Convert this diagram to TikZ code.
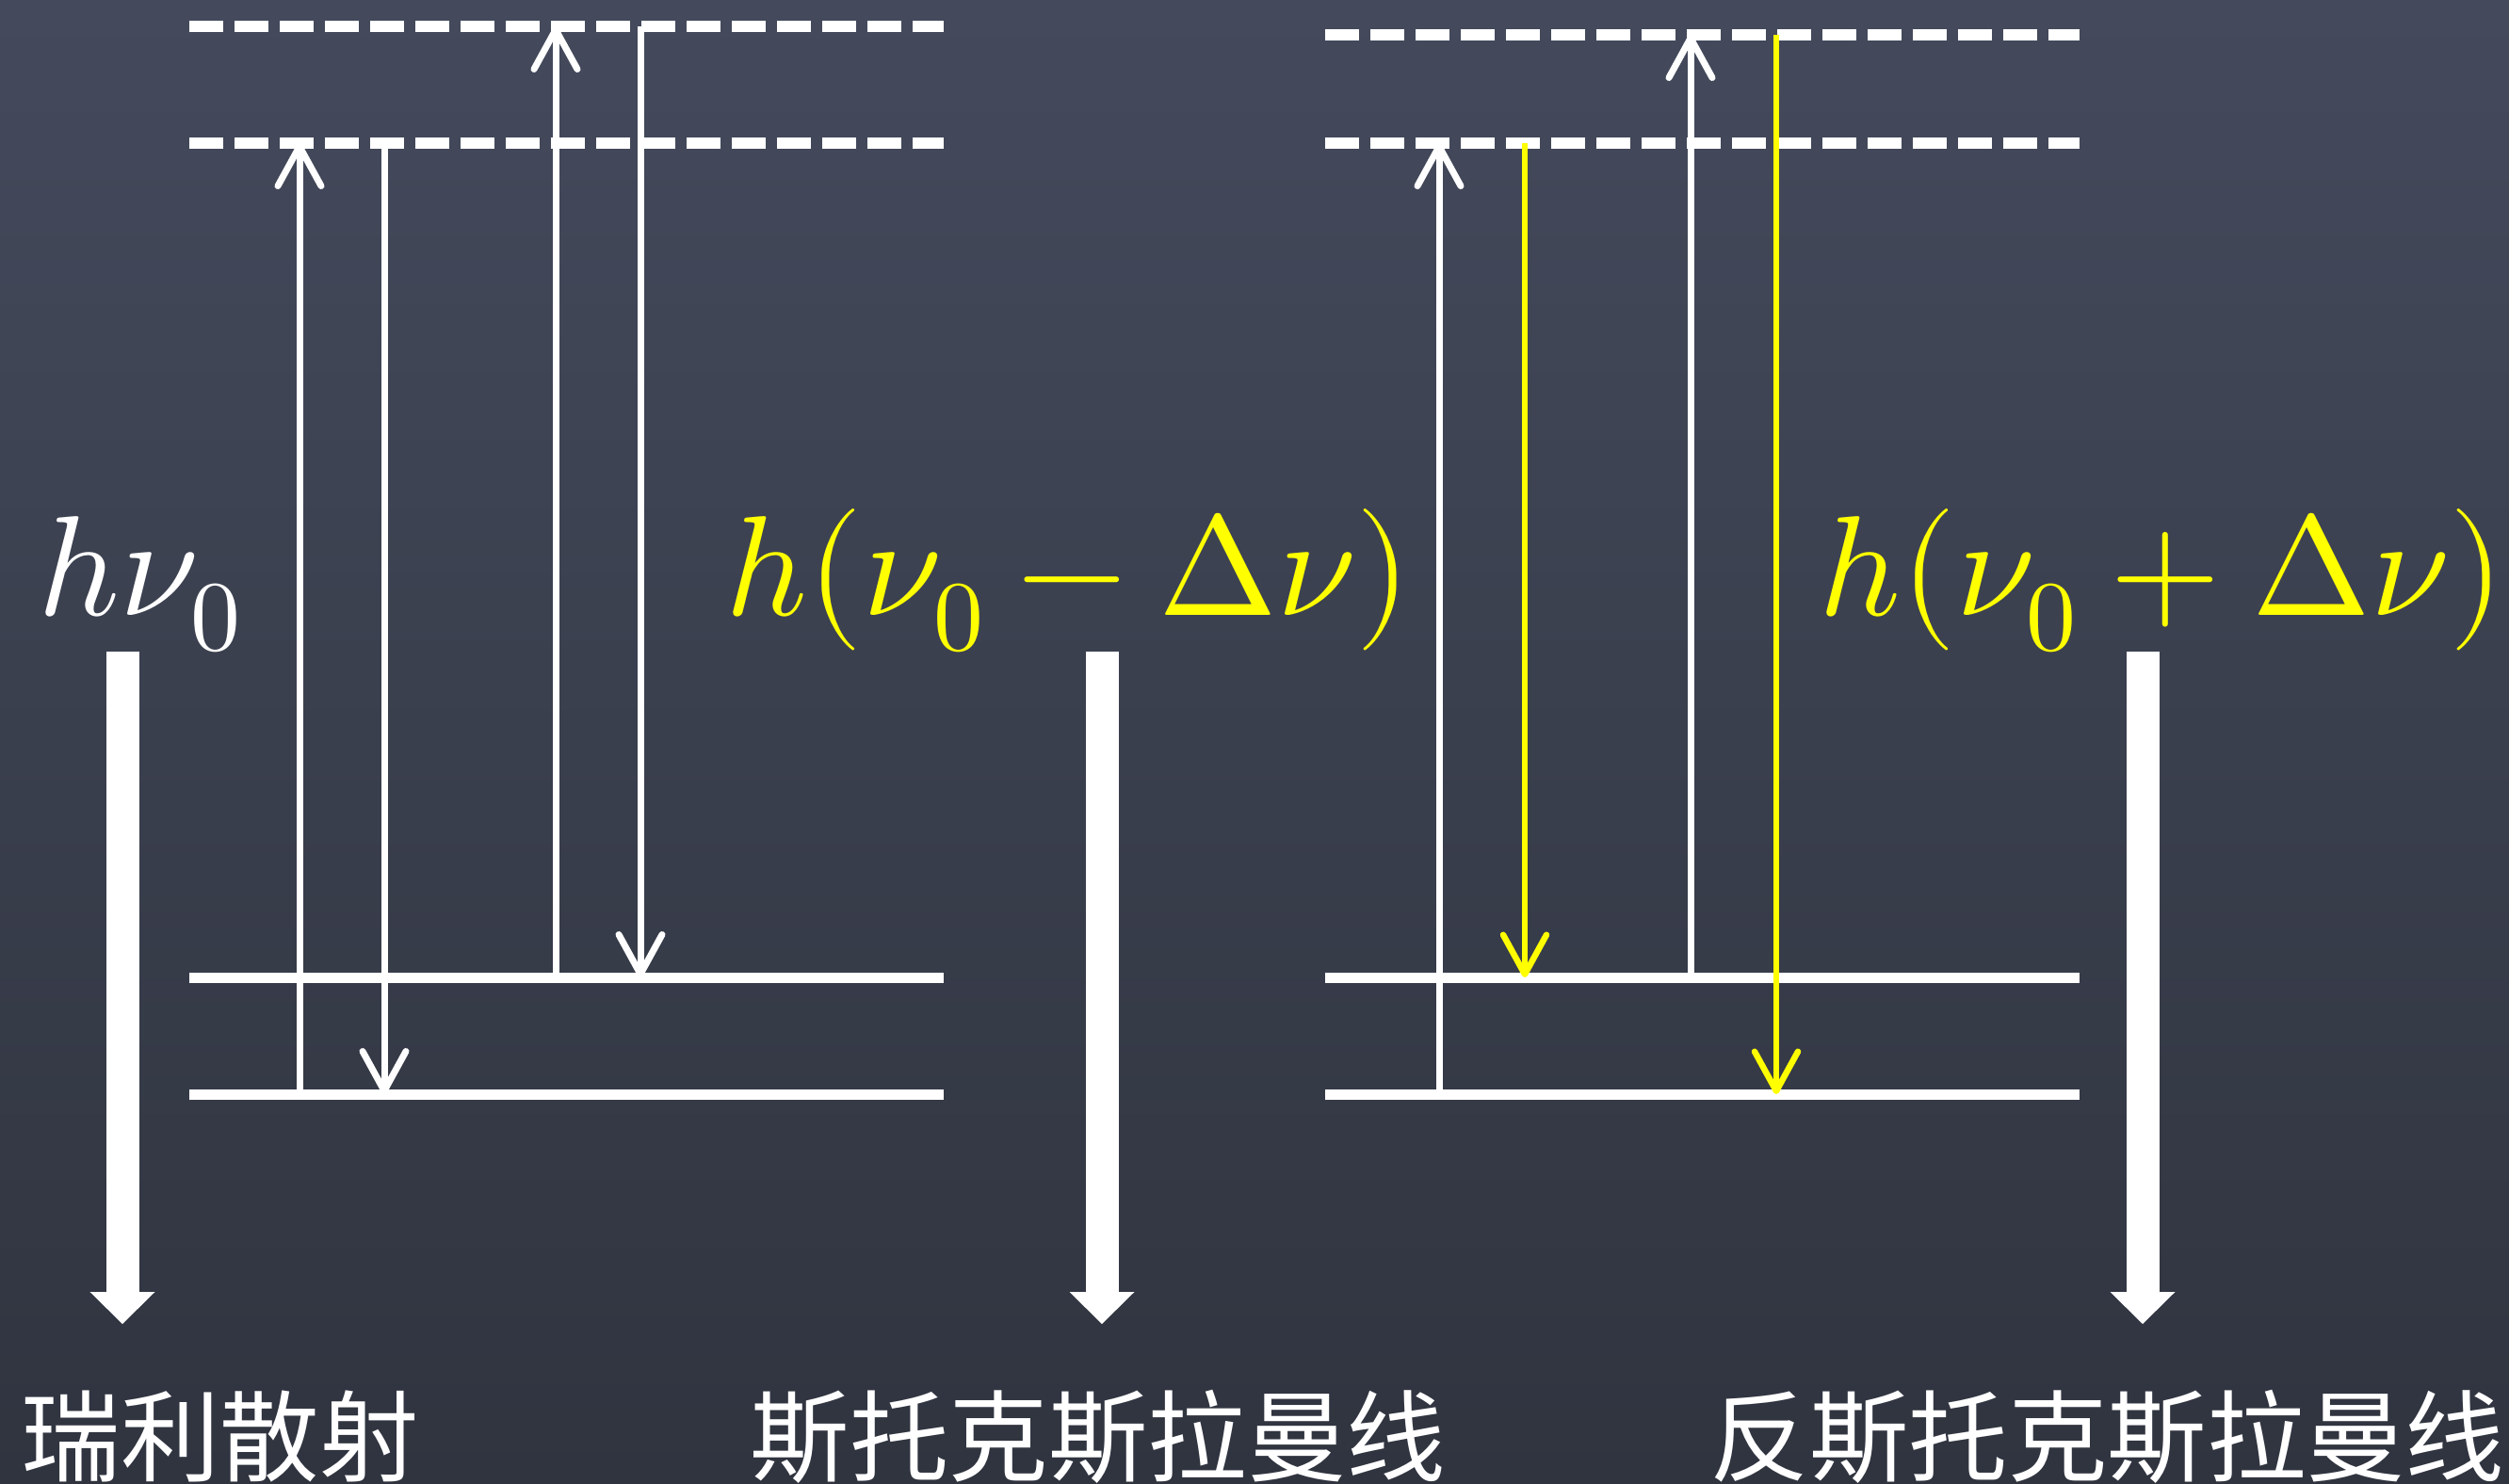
\documentclass[tikz,border=0pt]{standalone}
\usepackage{fontspec}
\usepackage{unicode-math}
\newfontfamily\cjk{Noto Sans CJK SC}
\usetikzlibrary{arrows.meta,calc,positioning}
\definecolor{BoardTop}{RGB}{68,74,92}
\definecolor{BoardBottom}{RGB}{48,52,63}
\definecolor{RamanYellow}{RGB}{255,255,0}

\begin{document}
\begin{tikzpicture}[
    virtual/.style={white, line width=1.2mm, dash pattern=on 3.6mm off 1.2mm},
    level/.style={white, line width=1.1mm},
    photon/.style={white, line width=0.7mm, -{Straight Barb[length=4.2mm, width=4.6mm, round]}},
    shifted/.style={photon, RamanYellow, line width=0.65mm},
    bigarrow/.style={white, line width=3.5mm, -{Triangle[width=6.9mm, length=3.4mm, line width=0pt]}},
    energy/.style={inner sep=0pt, font=\fontsize{43}{50}\selectfont},
    caption/.style={inner sep=0pt, white, font=\cjk\fontsize{30}{36}\selectfont}
  ]
  % Chalkboard background
  \shade[top color=BoardTop, bottom color=BoardBottom] (0,0) rectangle (26.64,-15.76);
  \useasboundingbox (0,0) rectangle (26.64,-15.76);

  % Levels, Rayleigh / Stokes diagram
  \coordinate (Lv2) at (2.01,-0.28);
  \coordinate (Lv1) at (2.01,-1.52);
  \coordinate (Lg1) at (2.01,-10.38);
  \coordinate (Lg0) at (2.01,-11.62);
  \draw[virtual] (Lv2) -- ++(8.01,0);
  \draw[virtual] (Lv1) -- ++(8.01,0);
  \draw[level] (Lg1) -- ++(8.01,0);
  \draw[level] (Lg0) -- ++(8.01,0);

  % Levels, anti-Stokes diagram
  \coordinate (Rv2) at (14.07,-0.37);
  \coordinate (Rv1) at (14.07,-1.52);
  \coordinate (Rg1) at (14.07,-10.38);
  \coordinate (Rg0) at (14.07,-11.62);
  \draw[virtual] (Rv2) -- ++(8.01,0);
  \draw[virtual] (Rv1) -- ++(8.01,0);
  \draw[level] (Rg1) -- ++(8.01,0);
  \draw[level] (Rg0) -- ++(8.01,0);

  % Transition columns
  \coordinate (a1) at (3.18,0);
  \coordinate (a2) at (4.08,0);
  \coordinate (a3) at (5.90,0);
  \coordinate (a4) at (6.80,0);
  \coordinate (b1) at (15.28,0);
  \coordinate (b2) at (16.19,0);
  \coordinate (b3) at (17.95,0);
  \coordinate (b4) at (18.86,0);

  % Transitions
  \draw[photon] (a1 |- Lg0) -- (a1 |- Lv1);
  \draw[photon] (a2 |- Lv1) -- (a2 |- Lg0);
  \draw[photon] (a3 |- Lg1) -- (a3 |- Lv2);
  \draw[photon] (a4 |- Lv2) -- (a4 |- Lg1);
  \draw[photon] (b1 |- Rg0) -- (b1 |- Rv1);
  \draw[shifted] (b2 |- Rv1) -- (b2 |- Rg1);
  \draw[photon] (b3 |- Rg1) -- (b3 |- Rv2);
  \draw[shifted] (b4 |- Rv2) -- (b4 |- Rg0);

  % Photon energies
  \node[energy, white, anchor=base west] (rayE) at (0.40,-6.53) {$h\nu_0$};
  \node[energy, RamanYellow, anchor=base west] (stokesE) at (7.70,-6.53) {$h(\nu_0-\Delta\nu)$};
  \node[energy, RamanYellow, anchor=base east] (antiE) at (26.60,-6.53) {$h(\nu_0+\Delta\nu)$};

  % Scattered light arrows
  \coordinate (rayTop) at (1.30,-6.92);
  \coordinate (rayEnd) at (1.30,-14.06);
  \coordinate (stokesTop) at (11.70,-6.92);
  \coordinate (stokesEnd) at (11.70,-14.06);
  \coordinate (antiTop) at (22.75,-6.92);
  \coordinate (antiEnd) at (22.75,-14.06);
  \draw[bigarrow] (rayTop) -- (rayEnd);
  \draw[bigarrow] (stokesTop) -- (stokesEnd);
  \draw[bigarrow] (antiTop) -- (antiEnd);

  % Captions
  \node[caption, anchor=base west] (rayC) at (0.22,-15.65) {瑞利散射};
  \node[caption, anchor=base] (stokesC) at (11.66,-15.65) {斯托克斯拉曼线};
  \node[caption, anchor=base east] (antiC) at (26.60,-15.65) {反斯托克斯拉曼线};
\end{tikzpicture}
\end{document}
